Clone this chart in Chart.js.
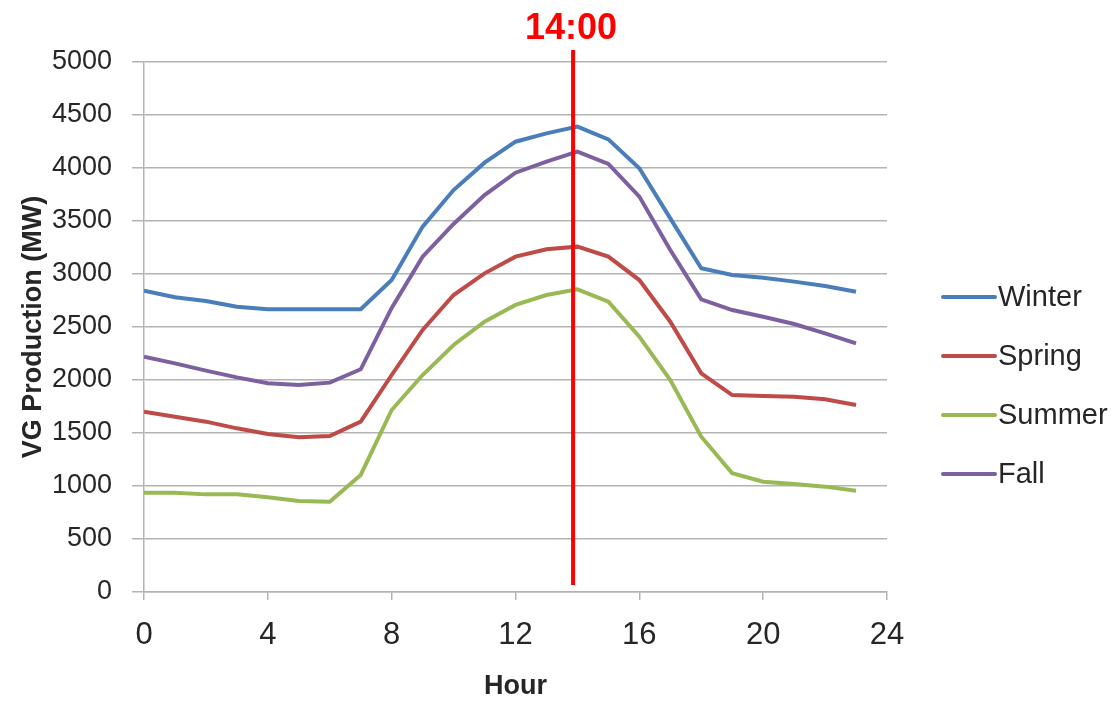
<!DOCTYPE html>
<html>
<head>
<meta charset="utf-8">
<script src="https://cdn.jsdelivr.net/npm/chart.js@4"></script>
<style>
  html, body { margin: 0; padding: 0; background: #ffffff; }
  #wrap { width: 1113px; height: 704px; position: relative; }
</style>
</head>
<body>
<div id="wrap"><canvas id="c" width="1113" height="704"></canvas></div>
<script>
// ---- data ----
const hours = [0,1,2,3,4,5,6,7,8,9,10,11,12,13,14,15,16,17,18,19,20,21,22,23];
const seriesNames = ['Winter', 'Spring', 'Summer', 'Fall'];
const winter = [2842, 2780, 2745, 2692, 2667, 2667, 2667, 2667, 2943, 3447, 3792, 4050, 4248, 4327, 4390, 4270, 3997, 3525, 3054, 2990, 2965, 2928, 2887, 2833];
const spring = [1701, 1654, 1607, 1544, 1491, 1459, 1472, 1607, 2047, 2472, 2802, 3006, 3164, 3233, 3258, 3164, 2943, 2550, 2063, 1858, 1849, 1843, 1818, 1764];
const summer = [937, 937, 921, 921, 893, 858, 852, 1104, 1717, 2047, 2330, 2550, 2708, 2802, 2855, 2739, 2409, 2000, 1465, 1120, 1041, 1019, 994, 956];
const fall = [2220, 2157, 2088, 2025, 1969, 1953, 1975, 2101, 2680, 3163, 3472, 3745, 3956, 4060, 4154, 4038, 3730, 3226, 2761, 2660, 2597, 2528, 2440, 2346];
const xTicks = [0, 4, 8, 12, 16, 20, 24];
const yTicks = [0, 500, 1000, 1500, 2000, 2500, 3000, 3500, 4000, 4500, 5000];
const markerHour = 13.86;
const markerLabel = '14:00';
const xTitle = 'Hour';
const yTitle = 'VG Production (MW)';

const colors = ['#4A7EBB', '#BE4B48', '#98B954', '#7D60A0'];
const values = [winter, spring, summer, fall];

const datasets = seriesNames.map((name, i) => ({
  label: name,
  data: hours.map((h, j) => ({ x: h, y: values[i][j] })),
  borderColor: colors[i],
  backgroundColor: colors[i],
  borderWidth: 4,
  pointRadius: 0,
  tension: 0,
  fill: false
}));

const markerPlugin = {
  id: 'marker',
  afterDatasetsDraw(chart) {
    const ctx = chart.ctx;
    const x = chart.scales.x.getPixelForValue(markerHour);
    const a = chart.chartArea;
    ctx.save();
    ctx.strokeStyle = '#FF0000';
    ctx.lineWidth = 4;
    ctx.beginPath();
    ctx.moveTo(x, a.top - 12);
    ctx.lineTo(x, a.bottom - 7);
    ctx.stroke();
    ctx.fillStyle = '#FF0000';
    ctx.font = 'bold 36px "Liberation Sans", Arial, sans-serif';
    ctx.textAlign = 'center';
    ctx.textBaseline = 'alphabetic';
    ctx.fillText(markerLabel, x - 2, 39);
    ctx.restore();
  }
};

const legendPlugin = {
  id: 'sideLegend',
  afterDraw(chart) {
    const ctx = chart.ctx;
    ctx.save();
    ctx.font = '29px "Liberation Sans", Arial, sans-serif';
    ctx.textBaseline = 'middle';
    ctx.textAlign = 'left';
    chart.data.datasets.forEach((ds, i) => {
      const y = 297 + i * 59;
      ctx.strokeStyle = ds.borderColor;
      ctx.lineWidth = 4;
      ctx.lineCap = 'round';
      ctx.beginPath();
      ctx.moveTo(943, y);
      ctx.lineTo(995, y);
      ctx.stroke();
      ctx.fillStyle = '#262626';
      ctx.fillText(ds.label, 998, y + 1);
    });
    ctx.restore();
  }
};

new Chart(document.getElementById('c'), {
  type: 'line',
  data: { datasets },
  options: {
    responsive: false,
    animation: false,
    layout: { padding: { left: 0, right: 226, top: 62, bottom: 0 } },
    plugins: {
      legend: { display: false },
      tooltip: { enabled: false },
      title: { display: false }
    },
    scales: {
      x: {
        type: 'linear',
        min: 0,
        max: 24,
        afterBuildTicks(scale) { scale.ticks = xTicks.map(v => ({ value: v })); },
        afterFit(scale) { scale.height = 112; },
        ticks: {
          color: '#262626',
          font: { family: '"Liberation Sans Narrow", "Liberation Sans", Arial, sans-serif', size: 31 },
          padding: 17,
          maxRotation: 0,
          callback: (v) => String(v)
        },
        grid: {
          drawOnChartArea: false,
          drawTicks: true,
          tickLength: 8,
          color: '#b3b3b3',
          lineWidth: 1.5
        },
        border: { display: true, color: '#b3b3b3', width: 1.5 },
        title: {
          display: true,
          text: xTitle,
          color: '#262626',
          font: { family: '"Liberation Sans", Arial, sans-serif', size: 27, weight: 'bold' },
          padding: { top: 0, bottom: 1 }
        }
      },
      y: {
        type: 'linear',
        min: 0,
        max: 5000,
        afterBuildTicks(scale) { scale.ticks = yTicks.map(v => ({ value: v })); },
        afterFit(scale) { scale.width = 144; },
        ticks: {
          color: '#262626',
          font: { family: '"Liberation Sans", Arial, sans-serif', size: 27 },
          padding: 20,
          callback: (v) => String(v)
        },
        grid: {
          drawOnChartArea: true,
          drawTicks: true,
          tickLength: 12,
          color: '#b3b3b3',
          lineWidth: 1.5
        },
        border: { display: true, color: '#b3b3b3', width: 1.5 },
        title: {
          display: true,
          text: yTitle,
          color: '#262626',
          font: { family: '"Liberation Sans", Arial, sans-serif', size: 27, weight: 'bold' },
          padding: { top: 17, bottom: 0 }
        }
      }
    }
  },
  plugins: [markerPlugin, legendPlugin]
});
</script>
</body>
</html>
